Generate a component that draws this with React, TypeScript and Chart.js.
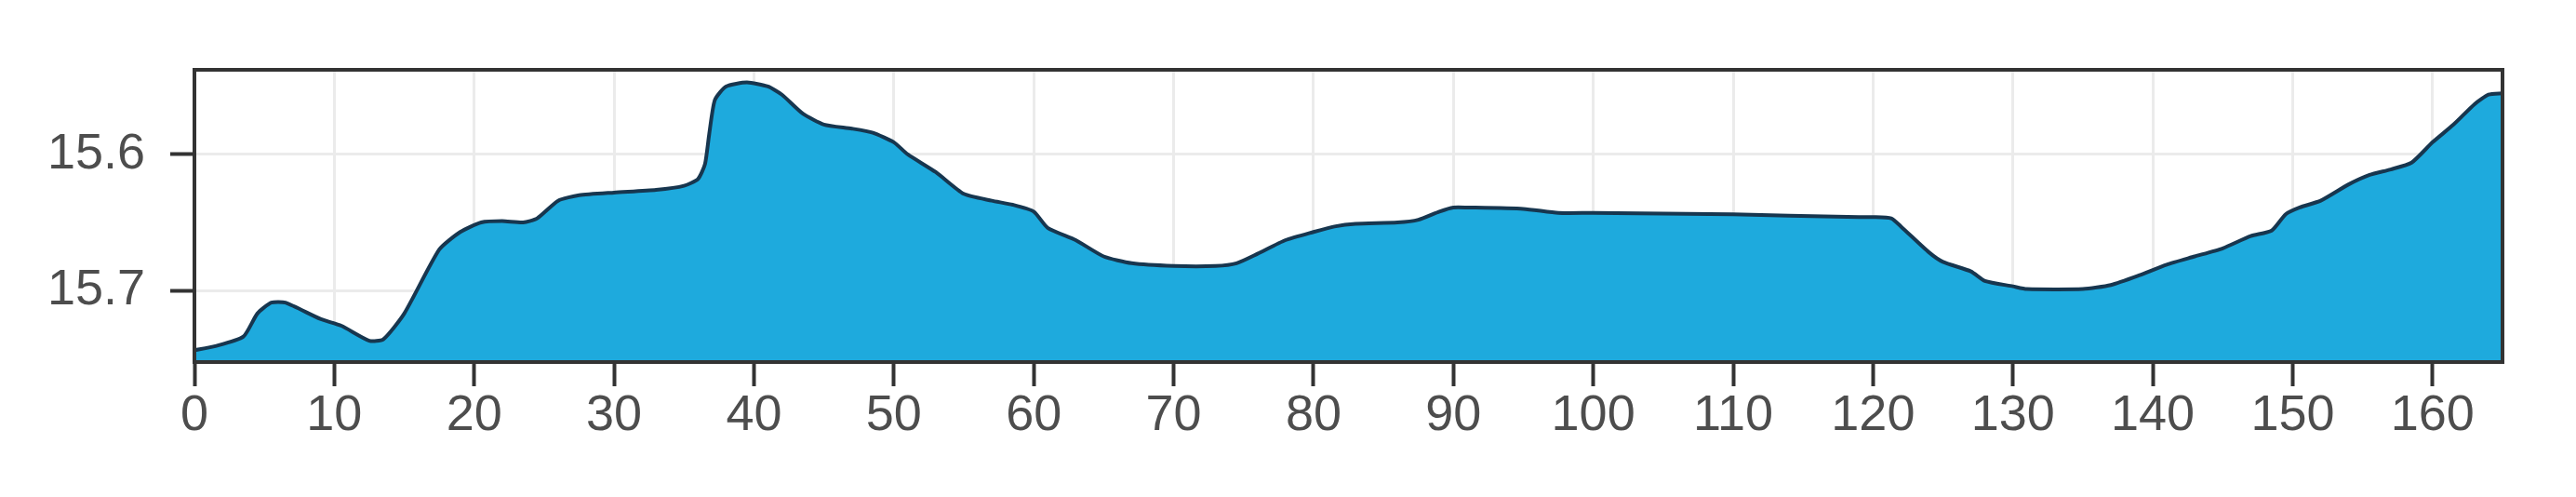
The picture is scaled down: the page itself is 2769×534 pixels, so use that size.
import React, { useEffect, useRef } from "react";
import { Chart, registerables } from "chart.js";

Chart.register(...registerables);

const distance = [0, 1.5, 3.5, 4.5, 5.5, 6.5, 9, 10.5, 12.5, 13.5, 15, 17.5, 19, 20.5, 22, 23.5, 24.5, 26, 27.5, 30, 33, 35, 36, 36.5, 36.8, 37.2, 38, 39.5, 41, 42, 43.5, 45, 47, 48.5, 50, 51, 53, 55, 57, 58.5, 60, 61, 63, 65, 67, 70, 73, 74.5, 76, 78, 80, 81.5, 83, 86, 87.5, 89, 90, 91, 95, 97.5, 100, 110, 114, 119, 120, 121.3, 122, 124, 125, 127, 128, 130, 131, 135, 137, 139, 141, 143, 145, 147, 148.5, 149.5, 150.5, 152, 154, 155.5, 157, 158.5, 160, 161.5, 163, 164, 165];
const level = [15.744, 15.741, 15.734, 15.717, 15.709, 15.709, 15.721, 15.726, 15.737, 15.736, 15.717, 15.670, 15.657, 15.650, 15.649, 15.650, 15.647, 15.634, 15.630, 15.628, 15.626, 15.623, 15.618, 15.607, 15.585, 15.560, 15.550, 15.547, 15.550, 15.556, 15.570, 15.578, 15.581, 15.584, 15.591, 15.600, 15.613, 15.629, 15.634, 15.637, 15.642, 15.654, 15.663, 15.675, 15.680, 15.682, 15.682, 15.680, 15.673, 15.663, 15.657, 15.653, 15.651, 15.650, 15.648, 15.642, 15.639, 15.639, 15.640, 15.643, 15.643, 15.644, 15.645, 15.646, 15.646, 15.647, 15.653, 15.672, 15.679, 15.686, 15.693, 15.697, 15.699, 15.699, 15.696, 15.689, 15.681, 15.675, 15.669, 15.660, 15.656, 15.644, 15.639, 15.634, 15.622, 15.615, 15.611, 15.606, 15.591, 15.578, 15.563, 15.556, 15.555];

const xTicks = [0, 10, 20, 30, 40, 50, 60, 70, 80, 90, 100, 110, 120, 130, 140, 150, 160];
const yTicks = [15.6, 15.7];
const X_MIN = 0;
const X_MAX = 165;
const Y_TOP = 15.5377;
const Y_BOTTOM = 15.7527;

const FONT = { family: "'Liberation Sans', Arial, sans-serif", size: 54 };

const panelBorder = {
  id: "panelBorder",
  afterDatasetsDraw(chart: any) {
    const { ctx, chartArea } = chart;
    ctx.save();
    ctx.strokeStyle = "#333333";
    ctx.lineWidth = 4;
    ctx.strokeRect(chartArea.left, chartArea.top, chartArea.right - chartArea.left, chartArea.bottom - chartArea.top);
    ctx.restore();
  },
};

export default function App() {
  const ref = useRef<HTMLCanvasElement | null>(null);

  useEffect(() => {
    if (!ref.current) return;
    const points = distance.map((d, i) => ({ x: d, y: level[i] }));
    const chart = new Chart(ref.current, {
      type: "line",
      data: {
        datasets: [
          {
            data: points,
            borderColor: "#17364f",
            borderWidth: 4,
            backgroundColor: "#1eaadd",
            fill: { value: Y_BOTTOM },
            pointRadius: 0,
            tension: 0.2,
          },
        ],
      },
      plugins: [panelBorder],
      options: {
        animation: false,
        responsive: false,
        events: [],
        layout: { padding: { top: 75, right: 79, left: 0, bottom: 0 } },
        plugins: { legend: { display: false }, tooltip: { enabled: false } },
        scales: {
          x: {
            type: "linear",
            min: X_MIN,
            max: X_MAX,
            afterBuildTicks: (s: any) => {
              s.ticks = xTicks.map((v) => ({ value: v }));
            },
            afterFit: (s: any) => {
              s.height = 145;
            },
            grid: {
              color: "#ebebeb",
              lineWidth: 3,
              tickColor: "#333333",
              tickWidth: 4,
              tickLength: 26,
            },
            border: { display: false },
            ticks: {
              font: FONT,
              color: "#4d4d4d",
              padding: 0,
              maxRotation: 0,
              autoSkip: false,
              callback: (v: any) => String(v),
            },
          },
          y: {
            type: "linear",
            reverse: true,
            min: Y_TOP,
            max: Y_BOTTOM,
            afterBuildTicks: (s: any) => {
              s.ticks = yTicks.map((v) => ({ value: v }));
            },
            afterFit: (s: any) => {
              s.width = 209;
            },
            grid: {
              color: "#ebebeb",
              lineWidth: 3,
              tickColor: "#333333",
              tickWidth: 4,
              tickLength: 26,
            },
            border: { display: false },
            ticks: {
              font: FONT,
              color: "#4d4d4d",
              padding: 27,
              autoSkip: false,
              callback: (v: any) => Number(v).toFixed(1),
            },
          },
        },
      },
    });
    return () => chart.destroy();
  }, []);

  return (
    <div style={{ position: "absolute", left: 0, top: 0, width: 2769, height: 534, background: "#ffffff" }}>
      <canvas ref={ref} width={2769} height={534} style={{ display: "block", width: 2769, height: 534 }} />
    </div>
  );
}
